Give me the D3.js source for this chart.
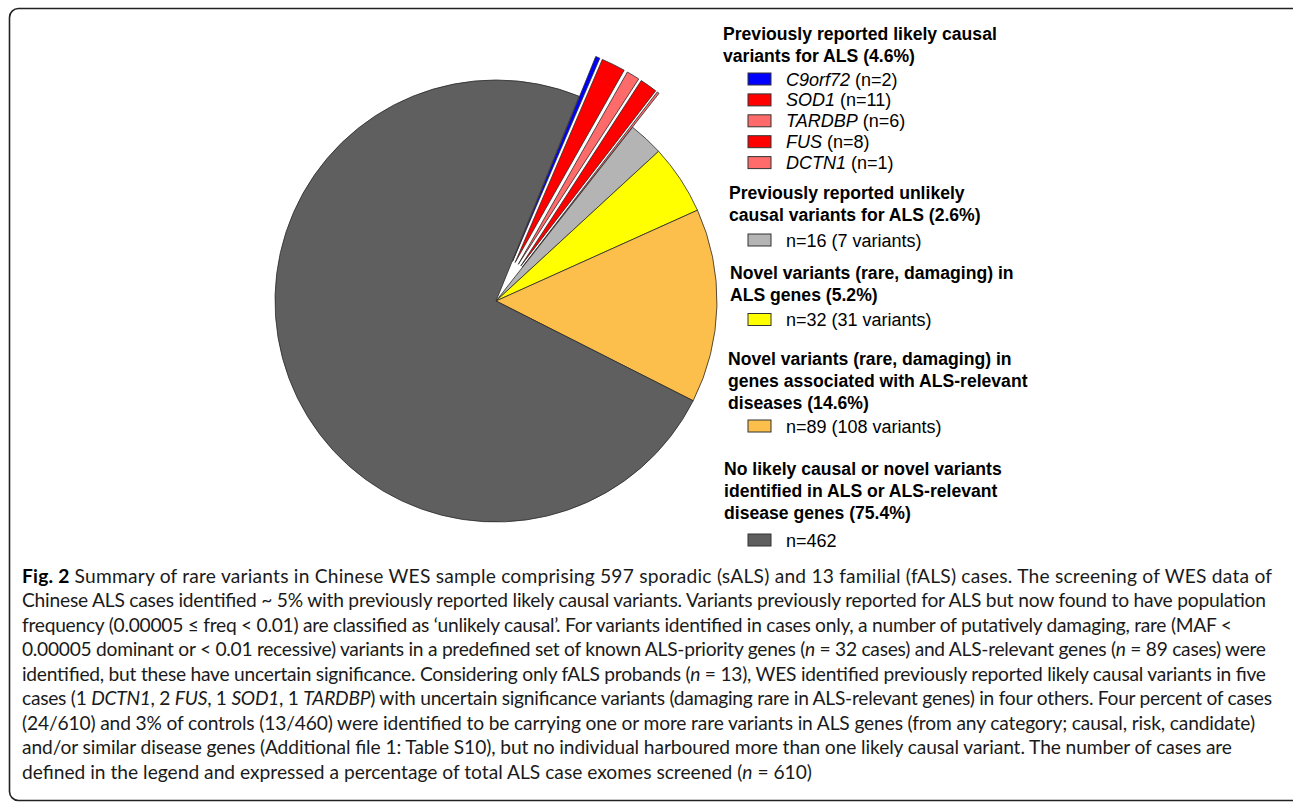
<!DOCTYPE html>
<html>
<head>
<meta charset="utf-8">
<script src="https://d3js.org/d3.v7.min.js"></script>
<style>
  body { margin: 0; background: #fff; }
  svg { display: block; }
  .slice { stroke: #2a2a2a; stroke-width: 0.8; }
  .title { font: bold 17.6px "Liberation Sans", Arial, sans-serif; fill: #000; }
  .item { font: 18px "Liberation Sans", Arial, sans-serif; fill: #000; }
  .swatch { stroke: #333; stroke-width: 1; }
  .caption { font: 19.2px Lato, sans-serif; fill: #1a1a1a; }
</style>
</head>
<body>
<script>
// slices, clockwise from the exploded group
var sliceKeys = ["C9orf72", "SOD1", "TARDBP", "FUS", "DCTN1", "unlikely", "novelALS", "novelRelevant", "none"];
var sliceCounts = [2, 11, 6, 8, 1, 16, 32, 89, 462];
var explodedKeys = ["C9orf72", "SOD1", "TARDBP", "FUS", "DCTN1"];
var sliceColors = ["#0000ff", "#ff0000", "#ff6b6b", "#ff0000", "#ff6b6b", "#b4b4b4", "#ffff00", "#fcbf4c", "#5f5f5f"];

// legend
var groupTitles = [
  ["Previously reported likely causal", "variants for ALS (4.6%)"],
  ["Previously reported unlikely", "causal variants for ALS (2.6%)"],
  ["Novel variants (rare, damaging) in", "ALS genes (5.2%)"],
  ["Novel variants (rare, damaging) in", "genes associated with ALS-relevant", "diseases (14.6%)"],
  ["No likely causal or novel variants", "identified in ALS or ALS-relevant", "disease genes (75.4%)"]
];
var geneLabels = ["C9orf72", "SOD1", "TARDBP", "FUS", "DCTN1"];
var geneCounts = ["(n=2)", "(n=11)", "(n=6)", "(n=8)", "(n=1)"];
var groupLabels = ["n=16 (7 variants)", "n=32 (31 variants)", "n=89 (108 variants)", "n=462"];

// caption, one entry per printed line: [text, style]
var captionLines = [
  [["Fig. 2", "b"], [" Summary of rare variants in Chinese WES sample comprising 597 sporadic (sALS) and 13 familial (fALS) cases. The screening of WES data of"]],
  [["Chinese ALS cases identified ~ 5% with previously reported likely causal variants. Variants previously reported for ALS but now found to have population"]],
  [["frequency (0.00005 \u2264 freq < 0.01) are classified as \u2018unlikely causal\u2019. For variants identified in cases only, a number of putatively damaging, rare (MAF <"]],
  [["0.00005 dominant or < 0.01 recessive) variants in a predefined set of known ALS-priority genes ("], ["n", "i"], [" = 32 cases) and ALS-relevant genes ("], ["n", "i"], [" = 89 cases) were"]],
  [["identified, but these have uncertain significance. Considering only fALS probands ("], ["n", "i"], [" = 13), WES identified previously reported likely causal variants in five"]],
  [["cases (1 "], ["DCTN1", "i"], [", 2 "], ["FUS", "i"], [", 1 "], ["SOD1", "i"], [", 1 "], ["TARDBP", "i"], [") with uncertain significance variants (damaging rare in ALS-relevant genes) in four others. Four percent of cases"]],
  [["(24/610) and 3% of controls (13/460) were identified to be carrying one or more rare variants in ALS genes (from any category; causal, risk, candidate)"]],
  [["and/or similar disease genes (Additional file 1: Table S10), but no individual harboured more than one likely causal variant. The number of cases are"]],
  [["defined in the legend and expressed a percentage of total ALS case exomes screened ("], ["n", "i"], [" = 610)"]]
];
var captionEnds = [1272, 1266, 1232, 1266, 1266, 1272, 1255, 1232, null];

var W = 1293, H = 803;
var cx = 496, cy = 301, radius = 221, explode = 43;

var svg = d3.select("body").append("svg")
  .attr("width", W)
  .attr("height", H);

svg.append("rect")
  .attr("x", 9.5).attr("y", 8.5)
  .attr("width", 1300).attr("height", 792)
  .attr("rx", 9)
  .attr("fill", "none")
  .attr("stroke", "#222")
  .attr("stroke-width", 1.6);

var color = d3.scaleOrdinal().domain(sliceKeys).range(sliceColors);

var a0 = 22.1 * Math.PI / 180;
var pie = d3.pie().sort(null).value(function (d) { return d.value; })
  .startAngle(a0).endAngle(a0 + 2 * Math.PI);
var arc = d3.arc().innerRadius(0).outerRadius(radius);

var slices = pie(sliceKeys.map(function (k, i) { return { key: k, value: sliceCounts[i] }; }));

svg.append("g")
  .attr("transform", "translate(" + cx + "," + cy + ")")
  .selectAll("path")
  .data(slices)
  .enter().append("path")
    .attr("class", "slice")
    .attr("fill", function (d) { return color(d.data.key); })
    .attr("transform", function (d) {
      if (explodedKeys.indexOf(d.data.key) < 0) return null;
      var mid = (d.startAngle + d.endAngle) / 2;
      return "translate(" + (explode * Math.sin(mid)) + "," + (-explode * Math.cos(mid)) + ")";
    })
    .attr("d", arc);

// legend
var titleX = [723, 729, 730, 728, 724];
var titleY = [40, 199, 278.5, 364.5, 474.5];
var lineH = 22.2;
var swX = 748, swW = 23, swH = 12, labX = 786;

var legend = svg.append("g");

groupTitles.forEach(function (lines, gi) {
  var t = legend.append("text").attr("class", "title");
  lines.forEach(function (l, li) {
    t.append("tspan").attr("x", titleX[gi]).attr("y", titleY[gi] + li * lineH).text(l);
  });
});

// gene rows
geneLabels.forEach(function (g, i) {
  var y = 79 + i * 20.9;
  legend.append("rect").attr("class", "swatch")
    .attr("x", swX).attr("y", y - swH / 2).attr("width", swW).attr("height", swH)
    .attr("fill", color(sliceKeys[i]));
  var t = legend.append("text").attr("class", "item")
    .attr("x", labX).attr("y", y + 6.5);
  t.append("tspan").style("font-style", "italic").text(g);
  t.append("tspan").text(" " + geneCounts[i]);
});

var groupSwatchY = [240, 319.5, 426, 540];
groupLabels.forEach(function (l, i) {
  var y = groupSwatchY[i];
  legend.append("rect").attr("class", "swatch")
    .attr("x", swX).attr("y", y - swH / 2).attr("width", swW).attr("height", swH)
    .attr("fill", color(sliceKeys[5 + i]));
  legend.append("text").attr("class", "item")
    .attr("x", labX).attr("y", y + 6.5).text(l);
});

// caption
var capX = 22, capY = 583, capH = 24.45;
captionLines.forEach(function (segs, i) {
  var t = svg.append("text").attr("class", "caption")
    .attr("x", capX).attr("y", capY + i * capH)
    .attr("xml:space", "preserve");
  if (captionEnds[i]) {
    t.attr("textLength", captionEnds[i] - capX).attr("lengthAdjust", "spacing");
  }
  segs.forEach(function (s) {
    var ts = t.append("tspan").text(s[0]);
    if (s[1] === "b") ts.style("font-weight", "bold").style("fill", "#000");
    if (s[1] === "i") ts.style("font-style", "italic");
  });
});
</script>
</body>
</html>
